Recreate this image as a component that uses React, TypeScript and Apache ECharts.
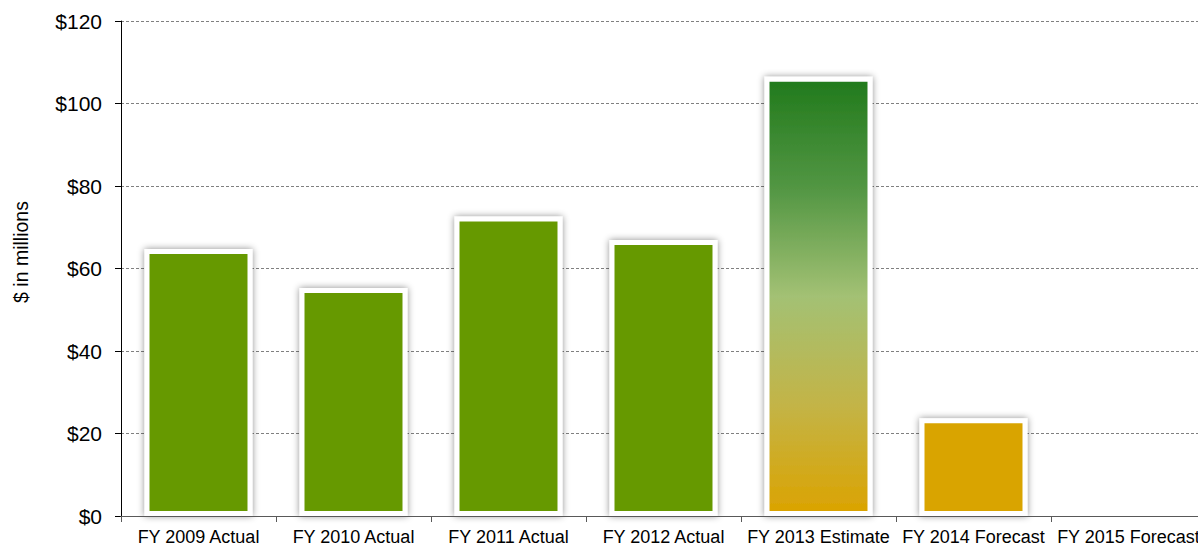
import React, { useEffect, useRef } from "react";
import * as echarts from "echarts";

// Fiscal years and their totals ($ in millions)
const categories = [
  "FY 2009 Actual",
  "FY 2010 Actual",
  "FY 2011 Actual",
  "FY 2012 Actual",
  "FY 2013 Estimate",
  "FY 2014 Forecast",
  "FY 2015 Forecast",
];
const values: (number | null)[] = [64.7, 55.3, 72.6, 66.9, 106.5, 23.7, null];
const yTicks = [0, 20, 40, 60, 80, 100, 120];

const FONT = "'Liberation Sans', Arial, sans-serif";

const GREEN = "#669900";
const GOLD = "#d9a400";

function barFill(i: number) {
  if (i === 4) {
    return new echarts.graphic.LinearGradient(0, 0, 0, 1, [
      { offset: 0, color: "#217a1c" },
      { offset: 0.25, color: "#529643" },
      { offset: 0.5, color: "#a3c174" },
      { offset: 0.75, color: "#c3b447" },
      { offset: 1, color: "#dba300" },
    ]);
  }
  if (i >= 5) return GOLD;
  return GREEN;
}

export default function App() {
  const ref = useRef<HTMLDivElement>(null);

  useEffect(() => {
    document.body.style.margin = "0";
    const chart = echarts.init(ref.current!, null, { renderer: "svg" });
    chart.setOption({
      animation: false,
      backgroundColor: "#ffffff",
      // the plot runs past the right edge, so the last label is cut off
      grid: {
        left: 121,
        right: 0,
        top: 21,
        bottom: 30,
        outerBoundsMode: "none",
        containLabel: false,
      },
      xAxis: {
        type: "category",
        data: categories,
        z: 5,
        axisLine: { lineStyle: { color: "#595959", width: 1 } },
        axisTick: { show: true, length: 6, lineStyle: { color: "#595959" } },
        axisLabel: {
          interval: 0,
          margin: 12,
          color: "#000",
          fontSize: 18,
          lineHeight: 18,
          fontFamily: FONT,
        },
      },
      yAxis: {
        type: "value",
        min: 0,
        max: yTicks[yTicks.length - 1],
        interval: yTicks[1] - yTicks[0],
        axisLine: { show: true, lineStyle: { color: "#000", width: 1 } },
        axisTick: { show: true, length: 6, lineStyle: { color: "#000" } },
        axisLabel: {
          margin: 19,
          color: "#000",
          fontSize: 21,
          fontFamily: FONT,
          formatter: (v: number) => "$" + v,
        },
        splitLine: {
          show: true,
          lineStyle: { color: "#808080", type: [3, 2], width: 1 },
        },
      },
      graphic: [
        {
          type: "text",
          x: 21,
          y: 252,
          rotation: Math.PI / 2,
          style: {
            text: "$ in millions",
            fill: "#000",
            fontSize: 19.5,
            fontFamily: FONT,
            align: "center",
            verticalAlign: "middle",
          },
        },
      ],
      series: [
        {
          type: "bar",
          barWidth: 108,
          data: values.map((v, i) => ({
            value: v,
            itemStyle: {
              color: barFill(i),
              borderColor: "#ffffff",
              borderWidth: 5,
              shadowColor: "rgba(0,0,0,0.45)",
              shadowBlur: 7,
            },
          })),
        },
      ],
    });
    return () => chart.dispose();
  }, []);

  return (
    <div style={{ width: 1198, height: 546, overflow: "hidden" }}>
      <div ref={ref} style={{ width: 1206, height: 546 }} />
    </div>
  );
}
